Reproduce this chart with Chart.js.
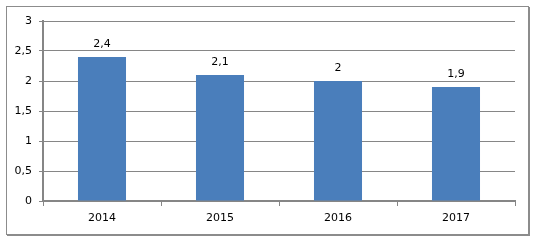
<!DOCTYPE html>
<html>
<head>
<meta charset="utf-8">
<script src="https://cdn.jsdelivr.net/npm/chart.js@4/dist/chart.umd.min.js"></script>
<style>
  html, body { margin: 0; padding: 0; background: #fff; }
  #wrap { position: relative; width: 534px; height: 240px; }
  #frame { position: absolute; left: 6px; top: 6px; width: 521px; height: 227px;
           border: 1px solid #8c8c8c; box-shadow: 1px 1px 0 #8c8c8c; pointer-events: none; }
  canvas { position: absolute; left: 0; top: 0; }
</style>
</head>
<body>
<div id="wrap">
  <canvas id="c" width="534" height="240"></canvas>
  <div id="frame"></div>
</div>
<script>
const categories = ['2014', '2015', '2016', '2017'];
const values = [2.4, 2.1, 2.0, 1.9];
const yTicks = [0, 0.5, 1, 1.5, 2, 2.5, 3];

const fmt = v => String(v).replace('.', ',');
const FONT = { family: 'DejaVu Sans', size: 11 };

const valueLabels = {
  id: 'valueLabels',
  afterDatasetsDraw(chart) {
    const ctx = chart.ctx;
    const meta = chart.getDatasetMeta(0);
    ctx.save();
    ctx.font = '11px "DejaVu Sans"';
    ctx.fillStyle = '#000';
    ctx.textAlign = 'center';
    ctx.textBaseline = 'alphabetic';
    meta.data.forEach((bar, i) => {
      ctx.fillText(fmt(values[i]), bar.x, bar.y - 10);
    });
    ctx.restore();
  }
};

new Chart(document.getElementById('c'), {
  type: 'bar',
  data: {
    labels: categories,
    datasets: [{
      data: values,
      backgroundColor: '#4A7EBB',
      borderWidth: 0,
      categoryPercentage: 1,
      barPercentage: 0.407
    }]
  },
  options: {
    responsive: false,
    animation: false,
    devicePixelRatio: 1,
    layout: { padding: { left: 0, top: 21, right: 19, bottom: 0 } },
    plugins: { legend: { display: false }, tooltip: { enabled: false } },
    scales: {
      y: {
        min: 0, max: 3,
        afterFit(s) { s.width = 43; },
        afterBuildTicks(s) { s.ticks = yTicks.map(v => ({ value: v })); },
        ticks: { color: '#000', font: FONT, padding: 7, callback: v => fmt(v) },
        grid: { color: '#868686', lineWidth: 1, tickLength: 4, drawTicks: true },
        border: { color: '#868686', width: 2 }
      },
      x: {
        afterFit(s) { s.height = 39; },
        ticks: { color: '#000', font: FONT, padding: 6 },
        grid: { drawOnChartArea: false, color: '#868686', lineWidth: 1, tickLength: 5, offset: true },
        border: { color: '#868686', width: 2 }
      }
    }
  },
  plugins: [valueLabels]
});
</script>
</body>
</html>
